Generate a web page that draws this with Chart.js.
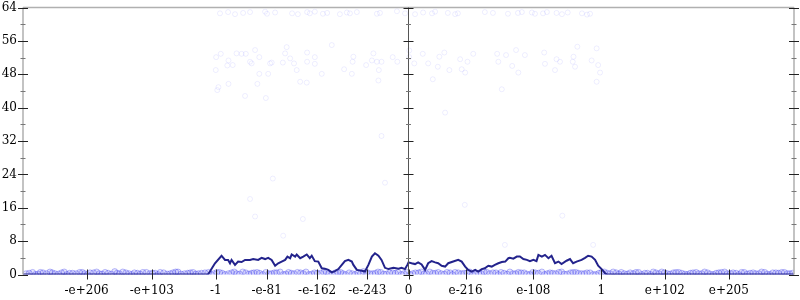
<!DOCTYPE html>
<html>
<head>
<meta charset="utf-8">
<script src="https://cdn.jsdelivr.net/npm/chart.js@4"></script>
<style>
  html, body { margin: 0; padding: 0; background: #fff; }
  #wrap { width: 800px; height: 300px; }
</style>
</head>
<body>
<div id="wrap"><canvas id="myChart" width="800" height="300"></canvas></div>
<script>
// x is a position on the flonum ordinal axis, scaled to -1..1
const xTickValues = [-0.835, -0.666, -0.5, -0.368, -0.237, -0.107, 0, 0.148, 0.324, 0.5, 0.665, 0.831];
const xTickLabels = ["-e+206", "-e+103", "-1", "-e-81", "-e-162", "-e-243", "0", "e-216", "e-108", "1", "e+102", "e+205"];
const yTickValues = [0, 8, 16, 24, 32, 40, 48, 56, 64];

// density curve
const densityX = [-1, -0.52, -0.502, -0.485, -0.476, -0.468, -0.463, -0.459, -0.45, -0.442, -0.433, -0.424, -0.411, -0.403, -0.39, -0.381, -0.372, -0.364, -0.355, -0.346, -0.338, -0.329, -0.32, -0.314, -0.307, -0.303, -0.294, -0.29, -0.281, -0.273, -0.264, -0.256, -0.251, -0.243, -0.234, -0.225, -0.217, -0.208, -0.199, -0.191, -0.182, -0.173, -0.165, -0.156, -0.147, -0.143, -0.134, -0.121, -0.113, -0.104, -0.095, -0.087, -0.078, -0.07, -0.061, -0.052, -0.039, -0.026, -0.018, -0.009, -0.003, 0, 0.008, 0.017, 0.025, 0.034, 0.043, 0.051, 0.06, 0.069, 0.077, 0.086, 0.095, 0.103, 0.116, 0.129, 0.138, 0.147, 0.155, 0.164, 0.173, 0.181, 0.19, 0.198, 0.207, 0.216, 0.224, 0.233, 0.242, 0.251, 0.259, 0.263, 0.272, 0.281, 0.289, 0.298, 0.307, 0.315, 0.324, 0.332, 0.337, 0.346, 0.354, 0.363, 0.371, 0.38, 0.389, 0.397, 0.41, 0.419, 0.427, 0.436, 0.449, 0.458, 0.466, 0.475, 0.484, 0.492, 0.501, 0.51, 0.515, 1];
const densityY = [0, 0, 2.7, 4.5, 3.5, 3.5, 2.7, 3.5, 2.3, 3.1, 3.0, 3.5, 3.5, 3.7, 3.5, 4.0, 3.7, 4.0, 3.5, 2.1, 2.7, 3.1, 3.5, 4.3, 3.9, 4.8, 4.3, 4.8, 3.9, 4.3, 4.8, 3.9, 4.5, 3.2, 3.1, 1.5, 1.4, 1.1, 0.5, 0.8, 1.3, 2.3, 3.2, 3.5, 3.1, 2.3, 1.1, 0.9, 0.7, 2.3, 4.3, 5.1, 4.5, 3.5, 1.6, 1.3, 1.6, 1.4, 1.6, 1.3, 2.3, 2.9, 2.7, 2.5, 2.9, 2.4, 1.1, 2.7, 3.2, 2.9, 2.7, 2.1, 1.9, 2.7, 3.1, 3.5, 3.1, 1.9, 1.1, 0.7, 1.1, 0.7, 1.3, 1.5, 2.1, 1.9, 2.3, 2.7, 3.0, 3.1, 3.9, 4.0, 3.8, 4.3, 4.3, 3.7, 3.5, 3.2, 3.5, 3.2, 4.7, 4.3, 4.7, 3.9, 4.5, 2.7, 3.1, 2.5, 3.3, 3.7, 2.7, 3.1, 3.5, 4.0, 4.5, 4.3, 3.5, 2.1, 1.3, 0.3, 0, 0];

// sampled points near the top
const topX = [-0.489, -0.468, -0.45, -0.429, -0.411, -0.372, -0.367, -0.346, -0.302, -0.287, -0.263, -0.256, -0.243, -0.222, -0.211, -0.178, -0.16, -0.152, -0.134, -0.082, -0.074, -0.03, -0.009, 0.017, 0.038, 0.061, 0.069, 0.102, 0.121, 0.128, 0.198, 0.219, 0.258, 0.284, 0.294, 0.32, 0.328, 0.349, 0.359, 0.384, 0.398, 0.413, 0.45, 0.463, 0.471];
const topY = [62.6, 62.9, 62.4, 62.7, 62.9, 63.0, 62.5, 62.8, 62.6, 62.4, 62.9, 62.6, 63.0, 62.5, 62.7, 62.4, 62.8, 62.6, 62.9, 62.5, 62.7, 63.1, 62.6, 62.4, 62.8, 62.6, 63.0, 62.7, 62.4, 62.6, 62.9, 62.7, 62.5, 62.7, 62.9, 62.8, 62.5, 62.6, 62.9, 62.7, 62.4, 62.8, 62.6, 62.3, 62.5];

// sampled points in the middle cluster
const midX = [-0.499, -0.487, -0.467, -0.47, -0.456, -0.446, -0.433, -0.422, -0.411, -0.407, -0.398, -0.387, -0.387, -0.364, -0.359, -0.355, -0.326, -0.32, -0.316, -0.307, -0.297, -0.29, -0.281, -0.264, -0.263, -0.263, -0.243, -0.243, -0.225, -0.199, -0.167, -0.147, -0.143, -0.145, -0.11, -0.095, -0.091, -0.082, -0.077, -0.07, -0.078, -0.041, -0.029, 0.002, 0.002, 0.015, 0.037, 0.051, 0.063, 0.076, 0.08, 0.093, 0.106, 0.134, 0.138, 0.147, 0.153, 0.168, 0.23, 0.233, 0.253, 0.269, 0.279, 0.285, 0.302, 0.352, 0.354, 0.38, 0.384, 0.393, 0.426, 0.428, 0.432, 0.438, 0.475, 0.488, 0.492, 0.497, 0.488, 0.242, 0.095, -0.493, -0.496, -0.467, -0.392, -0.424, -0.37, -0.5];
const midY = [52.1, 52.9, 51.3, 50.1, 50.2, 53.0, 52.9, 52.9, 51.0, 50.6, 53.8, 52.1, 48.1, 48.1, 50.6, 50.8, 50.8, 53.0, 54.5, 51.8, 50.6, 49.0, 46.2, 46.0, 53.2, 51.0, 52.1, 50.5, 48.1, 55.0, 49.2, 48.1, 52.2, 51.0, 50.2, 51.3, 53.0, 51.0, 49.0, 51.0, 46.5, 52.1, 51.0, 53.7, 52.1, 50.6, 52.9, 50.6, 46.8, 49.8, 52.2, 53.2, 49.0, 51.6, 49.2, 48.4, 51.0, 52.9, 52.9, 51.0, 52.6, 50.0, 53.8, 48.4, 52.6, 53.2, 50.5, 49.0, 51.6, 51.0, 51.0, 52.2, 49.8, 54.6, 51.3, 54.2, 50.2, 48.4, 46.2, 44.4, 38.8, 44.9, 44.2, 45.7, 45.7, 42.8, 42.3, 49.0];

// stray points lower down
const lowX = [-0.07, -0.061, -0.352, -0.411, -0.398, -0.274, -0.325, 0.146, 0.25, 0.399, 0.479];
const lowY = [33.2, 22.0, 23.0, 18.1, 13.9, 13.3, 9.3, 16.7, 7.1, 14.1, 7.1];

// the dense band of points along zero
const bandX = [-0.992, -0.975, -0.961, -0.948, -0.93, -0.917, -0.9, -0.886, -0.871, -0.853, -0.84, -0.826, -0.809, -0.795, -0.779, -0.762, -0.75, -0.733, -0.718, -0.703, -0.689, -0.671, -0.657, -0.644, -0.626, -0.611, -0.598, -0.581, -0.566, -0.552, -0.537, -0.519, -0.505, -0.49, -0.476, -0.459, -0.446, -0.43, -0.414, -0.401, -0.386, -0.37, -0.355, -0.342, -0.325, -0.311, -0.297, -0.28, -0.266, -0.251, -0.237, -0.22, -0.207, -0.19, -0.176, -0.163, -0.146, -0.131, -0.117, -0.1, -0.086, -0.072, -0.057, -0.041, -0.027, -0.012, 0.004, 0.018, 0.033, 0.047, 0.063, 0.077, 0.093, 0.108, 0.121, 0.137, 0.152, 0.166, 0.182, 0.196, 0.211, 0.227, 0.24, 0.256, 0.271, 0.285, 0.3, 0.315, 0.329, 0.346, 0.36, 0.374, 0.39, 0.404, 0.42, 0.434, 0.449, 0.463, 0.479, 0.494, 0.508, 0.523, 0.539, 0.552, 0.568, 0.583, 0.597, 0.613, 0.628, 0.642, 0.657, 0.672, 0.687, 0.701, 0.717, 0.731, 0.746, 0.761, 0.776, 0.791, 0.805, 0.82, 0.835, 0.85, 0.864, 0.879, 0.894, 0.909, 0.924, 0.938, 0.953, 0.968, 0.983, 0.996];
const bandY = [0.2, 0.5, 0.1, 0.4, 0.6, 0.2, 0.4, 0.0, 0.3, 0.5, 0.2, 0.4, 0.6, 0.1, 0.3, 0.7, 0.2, 0.4, 0.0, 0.3, 0.5, 0.2, 0.3, 0.5, 0.1, 0.4, 0.6, 0.2, 0.4, 0.1, 0.3, 0.5, 0.2, 0.5, 0.0, 0.4, 0.2, 0.6, 0.1, 0.4, 0.3, 0.5, 0.2, 0.4, 0.0, 0.5, 0.2, 0.4, 0.6, 0.1, 0.3, 0.5, 0.2, 0.4, 0.5, 0.0, 0.2, 0.4, 0.7, 0.2, 0.3, 0.5, 0.1, 0.4, 0.5, 0.2, 0.0, 0.4, 0.6, 0.2, 0.3, 0.5, 0.1, 0.4, 0.5, 0.2, 0.4, 0.0, 0.3, 0.6, 0.2, 0.4, 0.5, 0.1, 0.2, 0.5, 0.4, 0.0, 0.4, 0.6, 0.2, 0.3, 0.5, 0.1, 0.4, 0.5, 0.2, 0.4, 0.0, 0.3, 0.6, 0.2, 0.4, 0.5, 0.1, 0.2, 0.5, 0.3, 0.0, 0.4, 0.6, 0.2, 0.4, 0.5, 0.1, 0.3, 0.5, 0.2, 0.4, 0.0, 0.4, 0.6, 0.2, 0.3, 0.5, 0.1, 0.4, 0.2, 0.5, 0.0, 0.4, 0.5, 0.2, 0.3];
const bandX2 = [-0.984, -0.968, -0.955, -0.939, -0.924, -0.908, -0.893, -0.879, -0.862, -0.846, -0.833, -0.817, -0.802, -0.787, -0.771, -0.756, -0.741, -0.725, -0.711, -0.696, -0.68, -0.664, -0.65, -0.635, -0.618, -0.604, -0.59, -0.573, -0.559, -0.545, -0.528, -0.512, -0.497, -0.483, -0.467, -0.452, -0.438, -0.422, -0.407, -0.393, -0.378, -0.362, -0.348, -0.333, -0.318, -0.304, -0.288, -0.273, -0.258, -0.244, -0.228, -0.213, -0.198, -0.183, -0.17, -0.154, -0.139, -0.124, -0.108, -0.093, -0.079, -0.064, -0.049, -0.034, -0.019, -0.004, 0.011, 0.026, 0.04, 0.055, 0.07, 0.085, 0.1, 0.114, 0.129, 0.144, 0.159, 0.174, 0.189, 0.203, 0.219, 0.233, 0.248, 0.263, 0.278, 0.292, 0.307, 0.322, 0.337, 0.353, 0.367, 0.382, 0.397, 0.412, 0.427, 0.441, 0.456, 0.471, 0.486, 0.501, 0.516, 0.531, 0.546, 0.56, 0.575, 0.59, 0.605, 0.62, 0.635, 0.65, 0.664, 0.679, 0.694, 0.709, 0.724, 0.738, 0.753, 0.768, 0.783, 0.798, 0.812, 0.827, 0.842, 0.857, 0.871, 0.886, 0.901, 0.916, 0.931, 0.945, 0.96, 0.975, 0.989];
const bandY2 = [0.3, 0.0, 0.5, 0.2, 0.4, 0.1, 0.6, 0.3, 0.2, 0.5, 0.0, 0.4, 0.2, 0.5, 0.1, 0.3, 0.6, 0.2, 0.4, 0.1, 0.5, 0.3, 0.0, 0.4, 0.2, 0.6, 0.1, 0.3, 0.5, 0.2, 0.4, 0.0, 0.5, 0.3, 0.2, 0.6, 0.1, 0.4, 0.3, 0.5, 0.0, 0.2, 0.4, 0.6, 0.1, 0.3, 0.5, 0.2, 0.0, 0.4, 0.3, 0.6, 0.1, 0.5, 0.2, 0.4, 0.0, 0.3, 0.5, 0.2, 0.6, 0.1, 0.4, 0.3, 0.0, 0.5, 0.2, 0.4, 0.1, 0.6, 0.3, 0.2, 0.5, 0.0, 0.4, 0.3, 0.6, 0.1, 0.2, 0.5, 0.4, 0.0, 0.3, 0.6, 0.2, 0.4, 0.1, 0.5, 0.3, 0.0, 0.4, 0.2, 0.6, 0.1, 0.5, 0.3, 0.2, 0.4, 0.0, 0.5, 0.3, 0.6, 0.1, 0.2, 0.4, 0.5, 0.0, 0.3, 0.6, 0.2, 0.4, 0.1, 0.5, 0.3, 0.0, 0.4, 0.2, 0.6, 0.1, 0.3, 0.5, 0.2, 0.4, 0.0, 0.5, 0.3, 0.2, 0.6, 0.1, 0.4, 0.3, 0.5, 0.2];

const zip = (xs, ys) => xs.slice(0, Math.min(xs.length, ys.length)).map((x, i) => ({ x: x, y: ys[i] }));

const labelFont = { family: "'DejaVu Serif', serif", size: 12 };

// racket-style axes: grey lines, ticks that straddle the line
const axesPlugin = {
  id: "plotAxes",
  afterDatasetsDraw(chart) {
    const { ctx, scales: { x, y } } = chart;
    const xl = x.getPixelForValue(-1), xr = x.getPixelForValue(1), xc = x.getPixelForValue(0);
    const y0 = y.getPixelForValue(0), yt = y.getPixelForValue(64);
    ctx.save();
    ctx.lineWidth = 1.5;
    ctx.strokeStyle = "#b0b0b0";
    ctx.beginPath();
    ctx.moveTo(xl, yt); ctx.lineTo(xr, yt);
    ctx.moveTo(xl, yt); ctx.lineTo(xl, y0);
    ctx.moveTo(xr, yt); ctx.lineTo(xr, y0);
    ctx.stroke();
    ctx.lineWidth = 1;
    ctx.strokeStyle = "#555";
    ctx.beginPath();
    ctx.moveTo(xc, yt); ctx.lineTo(xc, y0);
    ctx.stroke();

    const vTicks = (px) => {
      for (let v = 0; v <= 64; v += 4) {
        const py = Math.round(y.getPixelForValue(v)) + 0.5;
        const major = v % 8 === 0;
        const len = major ? 5 : 2.5;
        ctx.strokeStyle = major ? "#222" : "#777";
        ctx.beginPath();
        ctx.moveTo(px - len, py); ctx.lineTo(px + len, py);
        ctx.stroke();
      }
    };
    vTicks(xl); vTicks(xc); vTicks(xr);

    ctx.strokeStyle = "#222";
    xTickValues.forEach((v) => {
      const px = Math.round(x.getPixelForValue(v)) + 0.5;
      ctx.beginPath();
      ctx.moveTo(px, y0 - 5); ctx.lineTo(px, y0 + 5);
      ctx.stroke();
    });
    ctx.restore();
  }
};

const pointStyle = {
  type: "scatter",
  pointStyle: "circle",
  pointRadius: 2.5,
  pointBorderWidth: 1,
  borderColor: "rgba(0, 0, 255, 0.07)",
  backgroundColor: "rgba(0, 0, 0, 0)",
  pointBackgroundColor: "rgba(0, 0, 0, 0)",
  pointBorderColor: "rgba(0, 0, 255, 0.07)",
  order: 2
};

const bandStyle = {
  pointBorderColor: "rgba(45, 45, 235, 0.3)",
  pointBackgroundColor: "rgba(45, 45, 235, 0.12)",
  pointRadius: 3
};

const ctx = document.getElementById("myChart").getContext("2d");
const myChart = new Chart(ctx, {
  type: "scatter",
  data: {
    datasets: [
      {
        type: "line",
        label: "density",
        data: zip(densityX, densityY),
        borderColor: "#23238c",
        borderWidth: 2,
        pointRadius: 0,
        fill: false,
        tension: 0,
        order: 1
      },
      Object.assign({ label: "top", data: zip(topX, topY) }, pointStyle),
      Object.assign({ label: "mid", data: zip(midX, midY) }, pointStyle),
      Object.assign({ label: "low", data: zip(lowX, lowY) }, pointStyle),
      Object.assign({ label: "band", data: zip(bandX, bandY) }, pointStyle, bandStyle),
      Object.assign({ label: "band2", data: zip(bandX2, bandY2) }, pointStyle, bandStyle)
    ]
  },
  options: {
    responsive: false,
    animation: false,
    layout: { padding: { top: 7.5, right: 6, left: 0, bottom: 0 } },
    plugins: { legend: { display: false }, tooltip: { enabled: false } },
    scales: {
      x: {
        type: "linear",
        min: -1,
        max: 1,
        grid: { display: false, drawTicks: false },
        border: { display: false },
        afterBuildTicks: (scale) => {
          scale.ticks = xTickValues.map((v) => ({ value: v }));
        },
        afterFit: (scale) => {
          scale.height = 25.5;
          scale.paddingLeft = 0; scale.paddingRight = 0;
        },
        ticks: {
          autoSkip: false,
          maxRotation: 0,
          padding: 9,
          color: "#000",
          font: labelFont,
          callback: (value, index) => xTickLabels[index]
        }
      },
      y: {
        min: 0,
        max: 64,
        grid: { display: false, drawTicks: false },
        border: { display: false },
        afterBuildTicks: (scale) => {
          scale.ticks = yTickValues.map((v) => ({ value: v }));
        },
        afterFit: (scale) => {
          scale.width = 23;
          scale.paddingTop = 0; scale.paddingBottom = 0;
        },
        ticks: {
          padding: 6,
          color: "#000",
          font: labelFont
        }
      }
    }
  },
  plugins: [axesPlugin]
});
</script>
</body>
</html>
